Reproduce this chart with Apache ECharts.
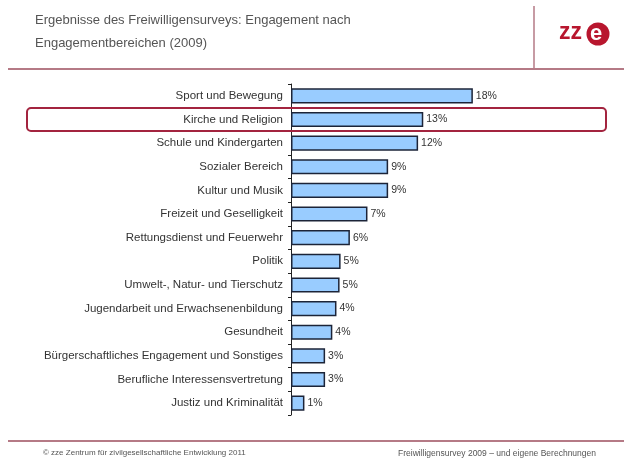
<!DOCTYPE html>
<html>
<head>
<meta charset="utf-8">
<script src="https://cdn.jsdelivr.net/npm/echarts@6/dist/echarts.min.js"></script>
<style>
  html, body { margin: 0; padding: 0; background: #fff; }
  #chart { width: 624px; height: 464px; }
</style>
</head>
<body>
<div id="chart"></div>
<script>
// Engagementbereiche, top to bottom
const categories = [
  'Sport und Bewegung',
  'Kirche und Religion',
  'Schule und Kindergarten',
  'Sozialer Bereich',
  'Kultur und Musik',
  'Freizeit und Geselligkeit',
  'Rettungsdienst und Feuerwehr',
  'Politik',
  'Umwelt-, Natur- und Tierschutz',
  'Jugendarbeit und Erwachsenenbildung',
  'Gesundheit',
  'Bürgerschaftliches Engagement und Sonstiges',
  'Berufliche Interessensvertretung',
  'Justiz und Kriminalität'
];
// share in percent (labels are rounded)
const shares = [17.6, 12.8, 12.3, 9.4, 9.4, 7.4, 5.7, 4.8, 4.7, 4.4, 4.0, 3.3, 3.3, 1.3];

const titleLines = [
  'Ergebnisse des Freiwilligensurveys: Engagement nach',
  'Engagementbereichen (2009)'
];
const footerLeft = '© zze Zentrum für zivilgesellschaftliche Entwicklung 2011';
const footerRight = 'Freiwilligensurvey 2009 – und eigene Berechnungen';

const chart = echarts.init(document.getElementById('chart'));

const font = '"Liberation Sans", Arial, sans-serif';

const option = {
  backgroundColor: '#fff',
  animation: false,
  grid: { left: 291, top: 84, width: 310, height: 331 },
  xAxis: {
    type: 'value',
    min: 0,
    max: 30,
    show: false
  },
  yAxis: {
    type: 'category',
    data: categories,
    inverse: true,
    axisLine: { lineStyle: { color: '#222', width: 1 } },
    axisTick: { show: true, length: 3, lineStyle: { color: '#222' } },
    axisLabel: {
      color: '#333',
      fontFamily: font,
      fontSize: 11.5,
      margin: 8
    }
  },
  series: [{
    type: 'bar',
    data: shares,
    barCategoryGap: '36%',
    itemStyle: {
      color: '#99ccff',
      borderColor: '#1c2438',
      borderWidth: 1.5
    },
    label: {
      show: true,
      position: 'right',
      distance: 3,
      color: '#333',
      fontFamily: font,
      fontSize: 10.5,
      formatter: p => Math.round(p.value) + '%'
    }
  }],
  graphic: [
    // header
    { type: 'text', left: 35, top: 14, style: { text: titleLines[0], fill: '#555', font: '13px ' + font } },
    { type: 'text', left: 35, top: 37, style: { text: titleLines[1], fill: '#555', font: '13px ' + font } },
    { type: 'line', shape: { x1: 534, y1: 6, x2: 534, y2: 68 }, style: { stroke: '#b57a86', lineWidth: 1.5 } },
    { type: 'line', shape: { x1: 8, y1: 69, x2: 624, y2: 69 }, style: { stroke: '#b57a86', lineWidth: 2 } },
    // logo
    { type: 'circle', shape: { cx: 598, cy: 34, r: 11.5 }, style: { fill: '#b8162e' } },
    { type: 'text', left: 559, top: 21, style: { text: 'zz', fill: '#b8162e', font: 'bold 23px ' + font } },
    { type: 'text', x: 596, y: 34, z: 10, style: { text: 'e', fill: '#fff', font: 'bold 22px ' + font, align: 'center', verticalAlign: 'middle' } },
    // highlight box
    { type: 'rect', shape: { x: 27, y: 108, width: 579, height: 23, r: 4 }, z: 20, style: { fill: 'none', stroke: '#a3243f', lineWidth: 2 } },
    // footer
    { type: 'line', shape: { x1: 8, y1: 441, x2: 624, y2: 441 }, style: { stroke: '#b57a86', lineWidth: 2 } },
    { type: 'text', left: 43, top: 449, style: { text: footerLeft, fill: '#555', font: '8px ' + font } },
    { type: 'text', left: 398, top: 449, style: { text: footerRight, fill: '#555', font: '8.5px ' + font } }
  ]
};

chart.setOption(option);
</script>
</body>
</html>
